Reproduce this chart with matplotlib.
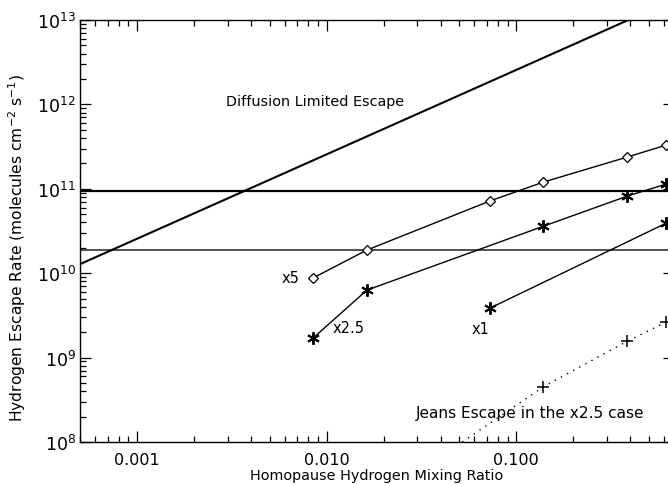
import numpy as np
import matplotlib
matplotlib.use("Agg")
import matplotlib.pyplot as plt
from matplotlib.ticker import FixedLocator, LogLocator, NullFormatter

# homopause hydrogen mixing ratio for the model runs
x5_mix = [0.0085, 0.0163, 0.073, 0.139, 0.386, 0.62]
x5_flux = [8.8e9, 1.88e10, 7.2e10, 1.2e11, 2.38e11, 3.3e11]

x25_mix = [0.0085, 0.0163, 0.139, 0.386, 0.62]
x25_flux = [1.71e9, 6.3e9, 3.6e10, 8.2e10, 1.14e11]

x1_mix = [0.073, 0.62]
x1_flux = [3.87e9, 3.93e10]

jeans_mix = [0.0163, 0.139, 0.386, 0.62]
jeans_flux = [1.7e7, 4.5e8, 1.57e9, 2.64e9]

diffusion_mix = [0.0005, 1.0]
diffusion_flux = [1.28e10, 2.56e13]

hline_flux = [9.4e10, 1.88e10]

xtick_vals = [0.001, 0.01, 0.1]
xtick_labels = ["0.001", "0.010", "0.100"]
ytick_vals = [1e8, 1e9, 1e10, 1e11, 1e12, 1e13]
ytick_labels = ["10$^{8}$", "10$^{9}$", "10$^{10}$", "10$^{11}$",
                "10$^{12}$", "10$^{13}$"]

plt.rcParams['font.family'] = ['DejaVu Sans']
plt.rcParams['font.size'] = 10.4

fig = plt.figure(figsize=(6.68, 4.85), dpi=100)
ax = fig.add_axes([80 / 668, 42 / 485, 594 / 668, 422 / 485])

ax.set_xscale('log')
ax.set_yscale('log')
ax.set_xlim(0.0005, 0.68)
ax.set_ylim(1e8, 1e13)

ax.axhline(hline_flux[0], color='black', lw=1.6)
ax.axhline(hline_flux[1], color='#333333', lw=1.2)

ax.plot(diffusion_mix, diffusion_flux, color='black', lw=1.5)

star = (6, 2, 0)
ax.plot(x5_mix, x5_flux, color='black', lw=1, marker='D', ms=5,
        mfc='white', mec='black', mew=0.9)
ax.plot(x25_mix, x25_flux, color='black', lw=1, marker=star, ms=9, mew=1.4)
ax.plot(x1_mix, x1_flux, color='black', lw=1, marker=star, ms=9, mew=1.4)
ax.plot(jeans_mix, jeans_flux, color='black', lw=1, ls=(0, (1, 4)),
        marker='+', ms=8, mew=1.1)

ax.text(0.00295, 1.1e12, "Diffusion Limited Escape", fontsize=10.4, va='center')
ax.text(0.0072, 9.0e9, "x5", fontsize=10.5, ha='right', va='center')
ax.text(0.0108, 2.3e9, "x2.5", fontsize=10.5, ha='left', va='center')
ax.text(0.0725, 2.2e9, "x1", fontsize=10.5, ha='right', va='center')
ax.text(0.0296, 2.26e8, "Jeans Escape in the x2.5 case", fontsize=11.1,
        ha='left', va='center')

ax.xaxis.set_major_locator(FixedLocator(xtick_vals))
ax.set_xticklabels(xtick_labels)
ax.xaxis.set_minor_locator(LogLocator(base=10, subs=np.arange(2, 10), numticks=20))
ax.xaxis.set_minor_formatter(NullFormatter())
ax.yaxis.set_major_locator(FixedLocator(ytick_vals))
ax.set_yticklabels(ytick_labels)
ax.yaxis.set_minor_locator(LogLocator(base=10, subs=np.arange(2, 10), numticks=20))
ax.yaxis.set_minor_formatter(NullFormatter())

ax.tick_params(which='both', direction='in', top=True, right=True, width=0.9)
ax.tick_params(which='major', length=8)
ax.tick_params(which='minor', length=4)
ax.tick_params(axis='x', which='major', labelsize=11.5, pad=7)
ax.tick_params(axis='y', which='major', labelsize=12.5, pad=3)
for s in ax.spines.values():
    s.set_linewidth(1.0)

ax.set_xlabel("Homopause Hydrogen Mixing Ratio", fontsize=10.4)
ax.set_ylabel("Hydrogen Escape Rate (molecules cm$^{-2}$ s$^{-1}$)",
              fontsize=11.2)
ax.xaxis.set_label_coords(0.5, -0.062)
ax.yaxis.set_label_coords(-0.088, 0.462)

fig.savefig("out.png", dpi=100)
